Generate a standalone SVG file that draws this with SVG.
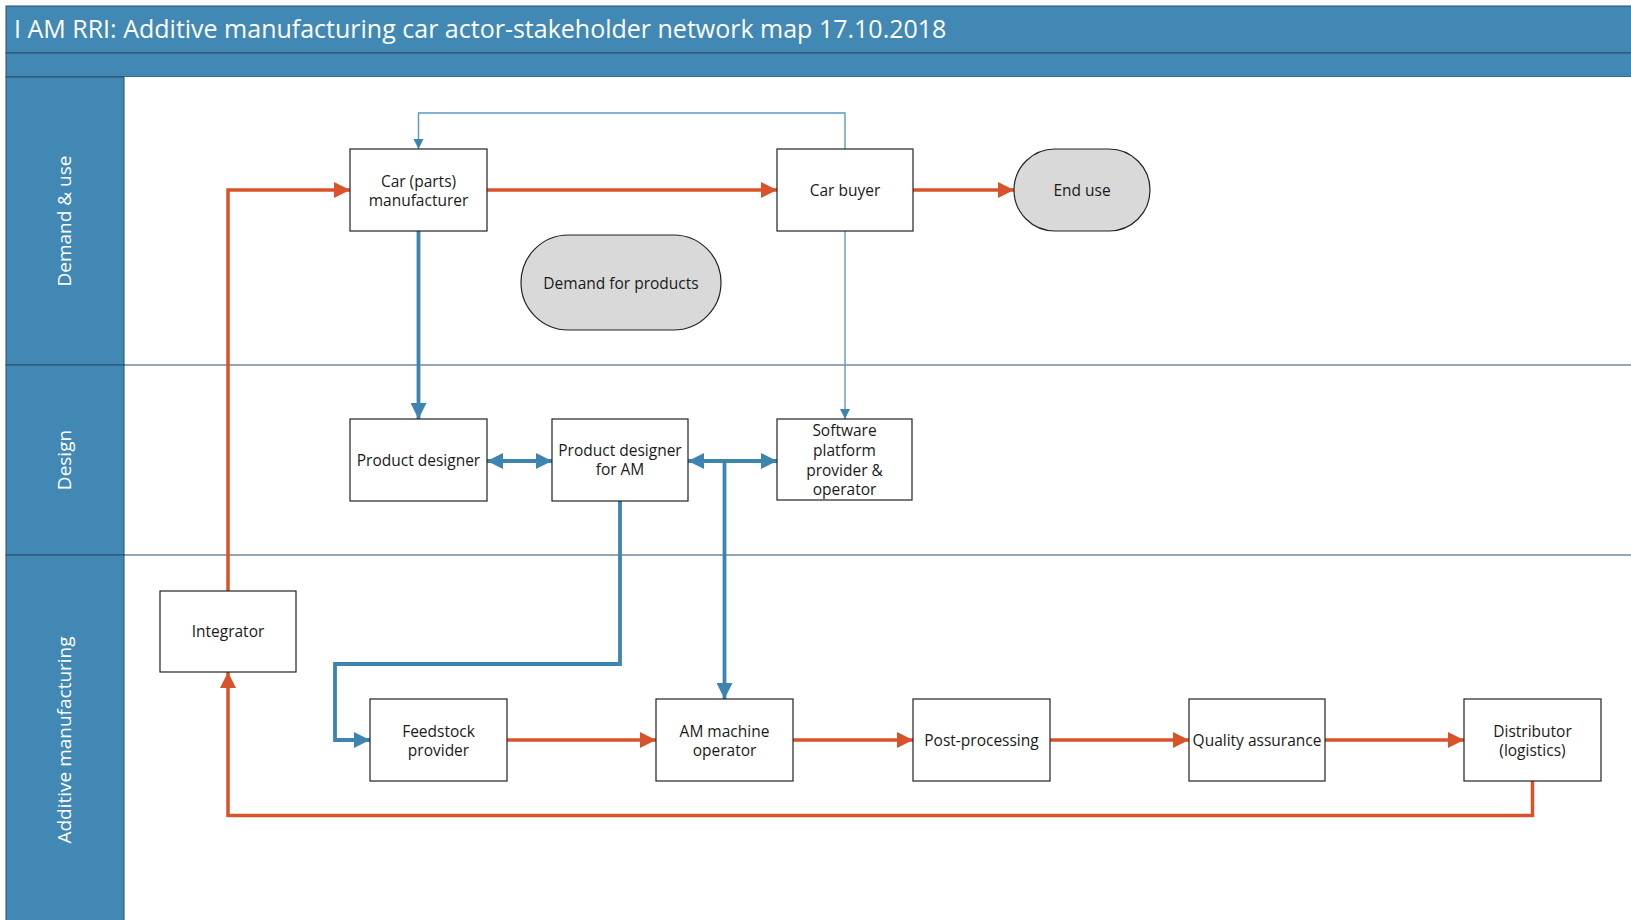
<svg xmlns="http://www.w3.org/2000/svg" width="1631" height="920" viewBox="0 0 1631 920">
<defs>
<style>
.hdr{fill:#4288b5;stroke:#264f6b;stroke-width:1}
.lane{fill:#ffffff;stroke:none}
.sep{stroke:#264f6b;stroke-width:1.2}
.box{fill:#ffffff;stroke:#222222;stroke-width:1.2}
.pill{fill:#d9d9d9;stroke:#222222;stroke-width:1.2}
.t{font-family:"Open Sans","Noto Sans",sans-serif;font-size:15.5px;fill:#1a1a1a;text-anchor:middle;dominant-baseline:central}
.lt{font-family:"Open Sans","Noto Sans",sans-serif;font-size:19px;fill:#ffffff;text-anchor:middle;dominant-baseline:central}
.title{font-family:"Open Sans","Noto Sans",sans-serif;font-size:25px;fill:#ffffff}
.or{fill:none;stroke:#d9532a;stroke-width:3.5}
.bl{fill:none;stroke:#3d85b0;stroke-width:3.8}
.bt{fill:none;stroke:#5a9ac2;stroke-width:1.4}
</style>
<marker id="ao" markerUnits="userSpaceOnUse" markerWidth="16" markerHeight="16" viewBox="0 0 16 16" refX="16" refY="8" orient="auto-start-reverse"><path d="M0,0 L16,8 L0,16 Z" fill="#d9532a"/></marker>
<marker id="ab" markerUnits="userSpaceOnUse" markerWidth="16" markerHeight="16" viewBox="0 0 16 16" refX="16" refY="8" orient="auto-start-reverse"><path d="M0,0 L16,8 L0,16 Z" fill="#3d85b0"/></marker>
<marker id="at" markerUnits="userSpaceOnUse" markerWidth="10" markerHeight="10" viewBox="0 0 10 10" refX="10" refY="5" orient="auto"><path d="M0,0 L10,5 L0,10 Z" fill="#3d85b0"/></marker>
</defs>

<g id="pool">
<rect x="6" y="6" width="1640" height="47" class="hdr"/>
<text x="14" y="38" class="title">I AM RRI: Additive manufacturing car actor-stakeholder network map 17.10.2018</text>
<rect x="6" y="53" width="1640" height="24" class="hdr"/>
<rect x="124" y="77" width="1520" height="850" class="lane"/>
</g>

<g id="lane-demand">
<rect x="6" y="77" width="118" height="288" class="hdr"/>
<text class="lt" transform="translate(64,221) rotate(-90)">Demand &amp; use</text>
</g>
<g id="lane-design">
<rect x="6" y="365" width="118" height="190" class="hdr"/>
<text class="lt" transform="translate(64,460) rotate(-90)">Design</text>
</g>
<g id="lane-am">
<rect x="6" y="555" width="118" height="380" class="hdr"/>
<text class="lt" transform="translate(64,740) rotate(-90)">Additive manufacturing</text>
</g>
<g id="lane-separators">
<line x1="124" y1="365" x2="1631" y2="365" class="sep"/>
<line x1="124" y1="555" x2="1631" y2="555" class="sep"/>
</g>

<g id="connectors">
<path class="bt" d="M845,149 V113 H418.5 V149" marker-end="url(#at)"/>
<path class="bt" d="M845,231 V419" marker-end="url(#at)"/>
<path class="or" d="M487,190 H777" marker-end="url(#ao)"/>
<path class="or" d="M913,190 H1014" marker-end="url(#ao)"/>
<path class="or" d="M228,591 V190 H350" marker-end="url(#ao)"/>
<path class="bl" d="M418.5,231 V419" marker-end="url(#ab)"/>
<path class="bl" d="M487,461 H552" marker-start="url(#ab)" marker-end="url(#ab)"/>
<path class="bl" d="M688,461 H777" marker-start="url(#ab)" marker-end="url(#ab)"/>
<path class="bl" d="M724.5,461 V699" marker-end="url(#ab)"/>
<path class="bl" d="M620,501 V664 H335 V740 H370" marker-end="url(#ab)"/>
<path class="or" d="M507,740 H656" marker-end="url(#ao)"/>
<path class="or" d="M793,740 H913" marker-end="url(#ao)"/>
<path class="or" d="M1050,740 H1189" marker-end="url(#ao)"/>
<path class="or" d="M1325,740 H1464" marker-end="url(#ao)"/>
<path class="or" d="M1532.5,781 V815.5 H228 V672" marker-end="url(#ao)"/>
</g>

<g id="n-car-manufacturer">
<rect x="350" y="149" width="137" height="82" class="box"/>
<text class="t" x="418.5" y="181">Car (parts)</text>
<text class="t" x="418.5" y="200">manufacturer</text>
</g>
<g id="n-car-buyer">
<rect x="777" y="149" width="136" height="82" class="box"/>
<text class="t" x="845" y="190">Car buyer</text>
</g>
<g id="n-end-use">
<rect x="1014" y="149" width="136" height="82" rx="41" ry="41" class="pill"/>
<text class="t" x="1082" y="190">End use</text>
</g>
<g id="n-demand">
<rect x="521" y="235" width="200" height="95" rx="47.5" ry="47.5" class="pill"/>
<text class="t" x="621" y="282.5">Demand for products</text>
</g>
<g id="n-product-designer">
<rect x="350" y="419" width="137" height="82" class="box"/>
<text class="t" x="418.5" y="460">Product designer</text>
</g>
<g id="n-pd-am">
<rect x="552" y="419" width="136" height="82" class="box"/>
<text class="t" x="620" y="450">Product designer</text>
<text class="t" x="620" y="469">for AM</text>
</g>
<g id="n-software">
<rect x="777" y="419" width="135" height="81" class="box"/>
<text class="t" x="844.5" y="430">Software</text>
<text class="t" x="844.5" y="450">platform</text>
<text class="t" x="844.5" y="470">provider &amp;</text>
<text class="t" x="844.5" y="489">operator</text>
</g>
<g id="n-integrator">
<rect x="160" y="591" width="136" height="81" class="box"/>
<text class="t" x="228" y="631">Integrator</text>
</g>
<g id="n-feedstock">
<rect x="370" y="699" width="137" height="82" class="box"/>
<text class="t" x="438.5" y="731">Feedstock</text>
<text class="t" x="438.5" y="750">provider</text>
</g>
<g id="n-am-operator">
<rect x="656" y="699" width="137" height="82" class="box"/>
<text class="t" x="724.5" y="731">AM machine</text>
<text class="t" x="724.5" y="750">operator</text>
</g>
<g id="n-post">
<rect x="913" y="699" width="137" height="82" class="box"/>
<text class="t" x="981.5" y="740">Post-processing</text>
</g>
<g id="n-qa">
<rect x="1189" y="699" width="136" height="82" class="box"/>
<text class="t" x="1257" y="740">Quality assurance</text>
</g>
<g id="n-distributor">
<rect x="1464" y="699" width="137" height="82" class="box"/>
<text class="t" x="1532.5" y="731">Distributor</text>
<text class="t" x="1532.5" y="750">(logistics)</text>
</g>
</svg>
